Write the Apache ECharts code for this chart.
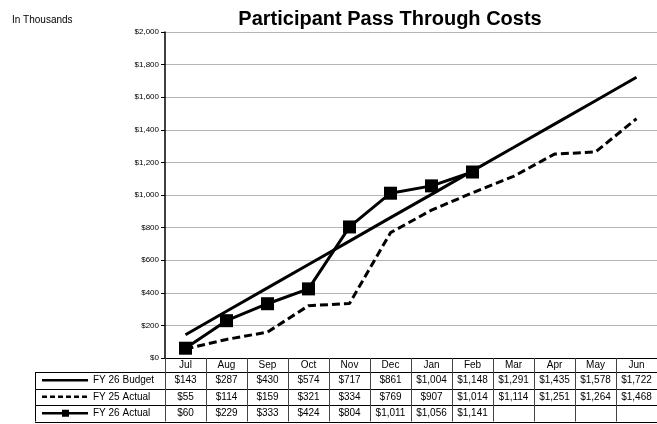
<!DOCTYPE html>
<html><head><meta charset="utf-8">
<script src="https://cdn.jsdelivr.net/npm/echarts@6/dist/echarts.min.js"></script>
<style>html,body{margin:0;padding:0;background:#fff}#c{width:657px;height:424px}</style>
</head><body><div id="c"></div>
<script>
const months = ['Jul','Aug','Sep','Oct','Nov','Dec','Jan','Feb','Mar','Apr','May','Jun'];
const seriesNames = ['FY 26 Budget','FY 25 Actual','FY 26 Actual'];
const budget26 = [143,287,430,574,717,861,1004,1148,1291,1435,1578,1722];
const actual25 = [55,114,159,321,334,769,907,1014,1114,1251,1264,1468];
const actual26 = [60,229,333,424,804,1011,1056,1141,null,null,null,null];
const yTicks = {min:0, max:2000, interval:200};

const fmt = v => (v==null ? ' ' : '$' + v.toLocaleString('en-US'));
const FONT = '"Liberation Sans", Arial, sans-serif';
const chart = echarts.init(document.getElementById('c'), null, {renderer:'canvas'});

const gridLeft = 165, gridTop = 32, gridBottom = 424-358;
const rowH = 16.5, headH = 14;
const tableTop = 358 + headH;
const tableBottom = tableTop + rowH*3;

const graphics = [
  {type:'text', left:12, top:15, style:{text:'In Thousands', font:'10px '+FONT, fill:'#000'}},
];
for (let r=0; r<=3; r++) {
  const y = Math.round(tableTop + r*rowH) + 0.5;
  graphics.push({type:'line', shape:{x1:35, y1:y, x2:657, y2:y}, style:{stroke:'#000', lineWidth:1}});
}
graphics.push({type:'line', shape:{x1:35.5, y1:tableTop, x2:35.5, y2:tableBottom}, style:{stroke:'#000', lineWidth:1}});
seriesNames.forEach((name, i) => {
  const cy = tableTop + rowH*i + rowH/2;
  graphics.push({type:'line', shape:{x1:42, y1:cy, x2:88, y2:cy},
    style:{stroke:'#000', lineWidth:2.5, lineDash: i===1 ? [5,3] : null}});
  if (i===2) graphics.push({type:'rect', shape:{x:62, y:cy-3.5, width:7, height:7}, style:{fill:'#000'}});
  graphics.push({type:'text', x:93, y:cy, style:{text:name, font:'10px '+FONT, fill:'#000', verticalAlign:'middle'}});
});

chart.setOption({
  animation:false,
  backgroundColor:'#fff',
  title:{text:'Participant Pass Through Costs', left:385, top:4, textAlign:'center',
    textStyle:{fontFamily:FONT, fontSize:20, fontWeight:'bold', color:'#000'}},
  grid:{left:gridLeft, right:0, top:gridTop, bottom:gridBottom, containLabel:false},
  xAxis:{type:'category', data:months, boundaryGap:true,
    axisLine:{lineStyle:{color:'#000', width:1}},
    axisTick:{show:true, length:tableBottom-358, interval:0, lineStyle:{color:'#444', width:1}},
    axisLabel:{interval:0, margin:0, fontFamily:FONT, color:'#000',
      formatter:(v, i) => `{h|${v}}\n{v|${fmt(budget26[i])}}\n{v|${fmt(actual25[i])}}\n{v|${fmt(actual26[i])}}`,
      rich:{h:{fontSize:10, lineHeight:headH, fontFamily:FONT, color:'#000'},
            v:{fontSize:10, lineHeight:rowH, fontFamily:FONT, color:'#000'}}}
  },
  yAxis:{type:'value', min:yTicks.min, max:yTicks.max, interval:yTicks.interval,
    axisLine:{show:true, lineStyle:{color:'#000', width:1.5}},
    axisTick:{show:true, length:4, lineStyle:{color:'#000'}},
    axisLabel:{fontSize:8, fontFamily:FONT, color:'#000', margin:6,
      formatter:v => '$' + v.toLocaleString('en-US')},
    splitLine:{show:true, lineStyle:{color:'#b4b4b4', width:1}}
  },
  graphic:graphics,
  series:[
    {name:seriesNames[0], type:'line', data:budget26, symbol:'none',
      lineStyle:{color:'#000', width:3}, itemStyle:{color:'#000'}},
    {name:seriesNames[1], type:'line', data:actual25, symbol:'none',
      lineStyle:{color:'#000', width:3, type:[8,4]}, itemStyle:{color:'#000'}},
    {name:seriesNames[2], type:'line', data:actual26, symbol:'rect', symbolSize:13,
      lineStyle:{color:'#000', width:3}, itemStyle:{color:'#000'}}
  ]
});
</script></body></html>
